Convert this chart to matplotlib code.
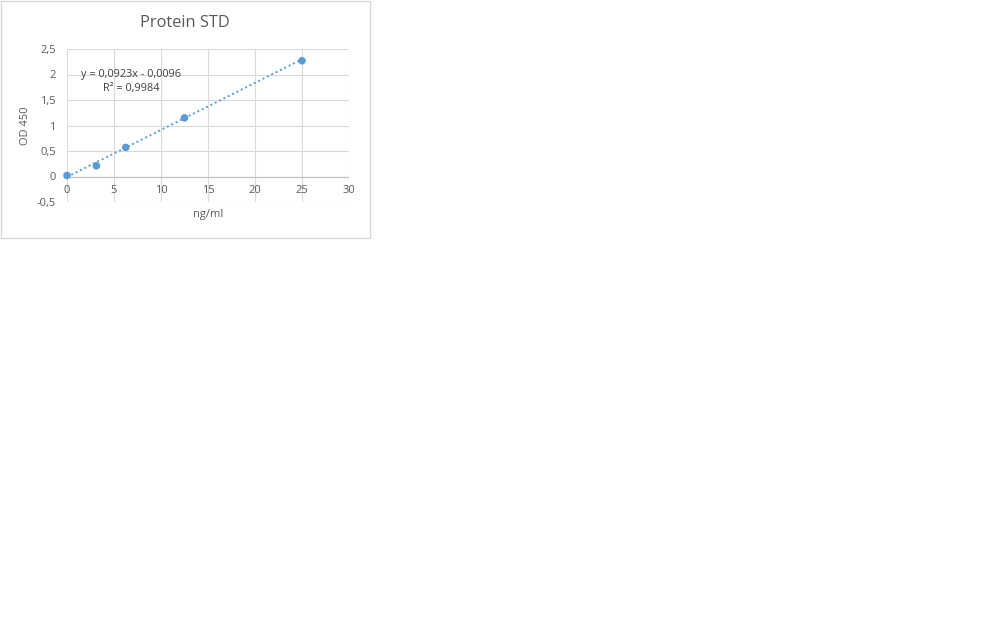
import matplotlib
matplotlib.use("Agg")
import matplotlib.pyplot as plt
import numpy as np
from matplotlib.patches import Rectangle

conc = [0, 3.125, 6.25, 12.5, 25]
od450 = [0.02, 0.21, 0.57, 1.15, 2.27]
slope, intercept = 0.0923, -0.0096
x_ticks = [0, 5, 10, 15, 20, 25, 30]
y_ticks = [-0.5, 0, 0.5, 1, 1.5, 2, 2.5]
title = "Protein STD"
eq_text = "y = 0,0923x - 0,0096"
r2_text = "R² = 0,9984"

W, H = 1008, 630
fig = plt.figure(figsize=(W / 100, H / 100), dpi=100)
plt.rcParams['font.family'] = ['Open Sans', 'DejaVu Sans']

def fx(px):
    return px / W

def fy(py):
    return 1 - py / H

# chart border
fig.patches.append(Rectangle((fx(0.5), fy(237.5)), fx(369), 237 / H, transform=fig.transFigure,
                             fill=False, edgecolor="#d9d9d9", linewidth=1))

ax = fig.add_axes([fx(67), fy(202), fx(349 - 67), (202 - 49) / H])
ax.set_xlim(0, 30)
ax.set_ylim(-0.5, 2.5)
ax.set_xticks(x_ticks)
ax.set_yticks(y_ticks)
ax.grid(True, color="#d9d9d9", linewidth=0.8)
ax.set_axisbelow(True)
for s in ["top", "right", "left", "bottom"]:
    ax.spines[s].set_visible(False)
ax.tick_params(length=0, labelsize=8, colors="#595959", pad=8)
ax.set_yticklabels([("%g" % v).replace(".", ",") for v in y_ticks])
ax.set_xticklabels([])
# x tick labels below y=0 line
for v in x_ticks:
    ax.text(v, -0.27, "%g" % v, ha="center", va="center", fontsize=8, color="#595959")

# line at y=0
ax.axhline(0, color="#bfbfbf", linewidth=0.8, zorder=1)

# trendline
xt = np.array([0, 25])
ax.plot(xt, slope * xt + intercept, linestyle=(0, (1, 1.5)), color="#5b9bd5", linewidth=1.4, zorder=2)
ax.scatter(conc, od450, s=30, color="#5b9bd5", zorder=3, edgecolors="none", clip_on=False)

fig.text(fx(131), fy(75), eq_text, ha="center", va="center", fontsize=7.8, color="#404040")
fig.text(fx(131), fy(89), r2_text, ha="center", va="center", fontsize=7.8, color="#404040")

fig.text(fx(185), fy(23), title, ha="center", va="center", fontsize=11.8, color="#595959")
fig.text(fx(208), fy(214), "ng/ml", ha="center", va="center", fontsize=8, color="#595959")
fig.text(fx(26), fy(126), "OD 450", ha="center", va="center", fontsize=8, color="#595959", rotation=90)

fig.savefig("out.png", dpi=100)
